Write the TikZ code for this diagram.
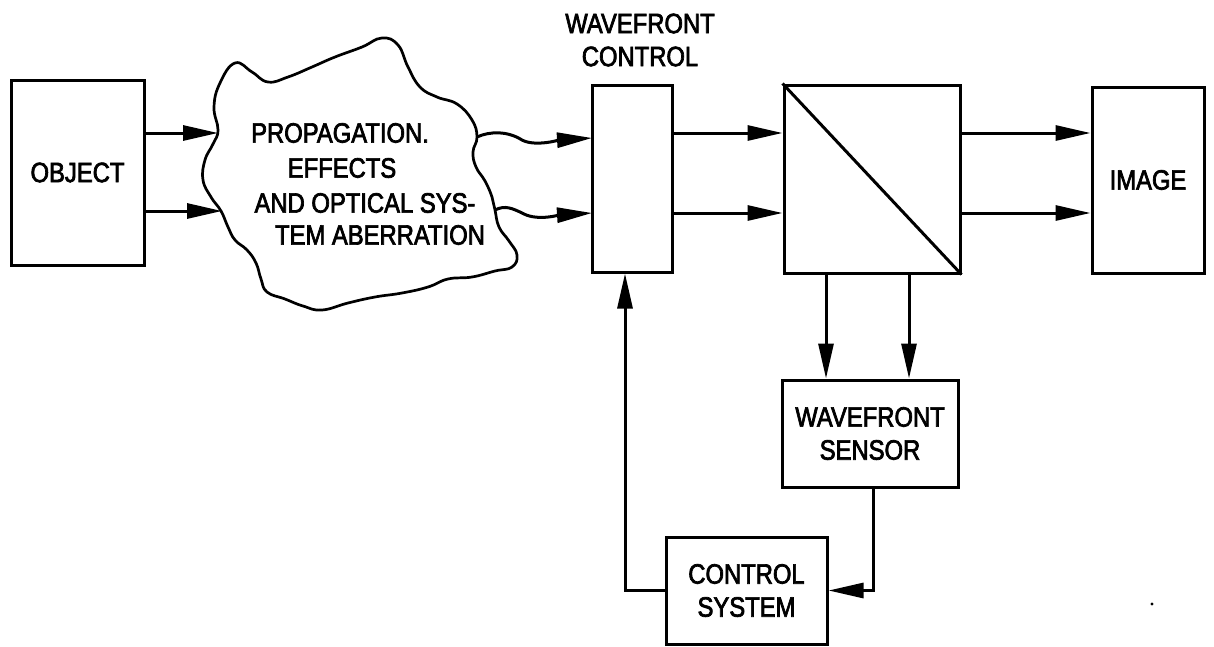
\documentclass[tikz,border=0pt]{standalone}
\usepackage{fontspec}
\setmainfont{Liberation Sans}[FakeStretch=0.85,FakeBold=2.5]
\usetikzlibrary{arrows.meta}
\begin{document}
\begin{tikzpicture}[x=1pt,y=-1pt,line width=3pt,
  font=\fontsize{28}{33}\selectfont,
  box/.style={draw, rectangle, inner sep=0pt, align=center, line width=3pt},
  arr/.style={-{Triangle[length=35pt,width=15pt]}, line width=3pt},
  txt/.style={inner sep=0pt, align=center},
  cloudline/.style={line width=2.7pt, line join=round}]
\useasboundingbox (0,0) rectangle (1214,646);
% boxes
\node[box, minimum width=133pt, minimum height=185pt] (obj) at (77.5,172.5) {OBJECT};
\node[box, minimum width=80pt, minimum height=187pt] (wc) at (632,178.5) {};
\node[txt] (wclbl) at (640,40) {WAVEFRONT\\CONTROL};
\node[box, minimum width=176pt, minimum height=188pt] (bs) at (872,179) {};
\draw (bs.north west) -- (bs.south east);
\node[box, minimum width=112pt, minimum height=186pt] (img) at (1148,180) {IMAGE};
\node[box, minimum width=176pt, minimum height=107pt] (ws) at (870,433.5) {WAVEFRONT\\SENSOR};
\node[box, minimum width=161pt, minimum height=107pt] (cs) at (746.5,590.5) {CONTROL\\SYSTEM};
% cloud
\draw[cloudline] plot[smooth cycle, tension=0.75] coordinates {
 (218,130) (214,107) (220,83) (235,63) (252,72) (268,82) (288,77) (312,67)
 (335,57) (362,47) (382,38) (398,45) (408,67) (420,87) (437,97) (457,104)
 (472,120) (477,137) (473,152) (476,167) (485,181) (492,197) (495,210) (499,227)
 (509,241) (517,255) (512,267) (495,271) (472,277) (448,279) (428,287) (402,293)
 (375,297) (348,303) (322,310) (303,306) (285,299) (267,292) (261,279) (256,263)
 (247,250) (235,240) (228,227) (221,211) (211,197) (203,180) (205,160) (213,144)};
\node[txt] (t1) at (340,133) {PROPAGATION.};
\node[txt] (t2) at (342,168) {EFFECTS};
\node[txt] (t3) at (365,203) {AND OPTICAL SYS-};
\node[txt] (t4) at (380,235) {TEM ABERRATION};
% helper coordinates
\coordinate (cin1) at (218,133);
\coordinate (cin2) at (222,211);
\coordinate (cout1) at (477,137);
\coordinate (cout2) at (495,210);
\coordinate (wcin1) at (592,138);
\coordinate (wcin2) at (592,213);
\coordinate (r1) at (0,133);
\coordinate (r2) at (0,213);
\coordinate (c1) at (826,0);
\coordinate (c2) at (909,0);
\coordinate (c3) at (873,0);
\coordinate (c4) at (625,0);
% connectors
\draw[arr] (obj.east |- cin1) -- (cin1);
\draw[arr] (obj.east |- cin2) -- (cin2);
\draw[arr] (cout1) .. controls (490,131) and (508,131) .. (522,140) .. controls (535,147) and (560,140) .. (wcin1);
\draw[arr] (cout2) .. controls (505,205) and (512,208) .. (524,214) .. controls (538,221) and (560,215) .. (wcin2);
\draw[arr] (wc.east |- r1) -- (bs.west |- r1);
\draw[arr] (wc.east |- r2) -- (bs.west |- r2);
\draw[arr] (bs.east |- r1) -- (img.west |- r1);
\draw[arr] (bs.east |- r2) -- (img.west |- r2);
\draw[arr] (bs.south -| c1) -- (ws.north -| c1);
\draw[arr] (bs.south -| c2) -- (ws.north -| c2);
\draw[arr] (ws.south -| c3) |- (cs.east);
\draw[arr] (cs.west) -| (wc.south -| c4);
% stray speck
\coordinate (speck) at (1152,604);
\fill (speck) circle (1.6pt);
\end{tikzpicture}
\end{document}
